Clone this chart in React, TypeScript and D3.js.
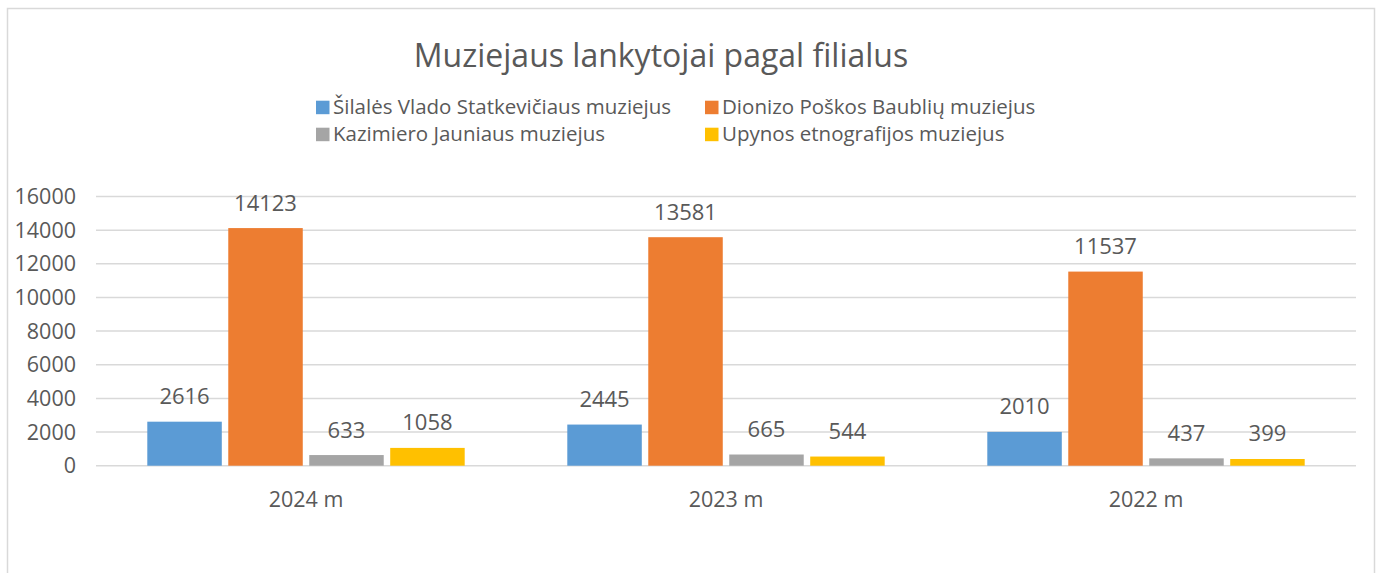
import React from "react";
import * as d3 from "d3";

const title = "Muziejaus lankytojai pagal filialus";
const categories = ["2024 m", "2023 m", "2022 m"];
const seriesNames = [
  "Šilalės Vlado Statkevičiaus muziejus",
  "Dionizo Poškos Baublių muziejus",
  "Kazimiero Jauniaus muziejus",
  "Upynos etnografijos muziejus",
];
const seriesColors = ["#5B9BD5", "#ED7D31", "#A5A5A5", "#FFC000"];
const silale = [2616, 2445, 2010];
const dionizo = [14123, 13581, 11537];
const kazimiero = [633, 665, 437];
const upyna = [1058, 544, 399];
const yTicks = [0, 2000, 4000, 6000, 8000, 10000, 12000, 14000, 16000];

const seriesValues = [silale, dionizo, kazimiero, upyna];

const FONT = "'Open Sans', 'Noto Sans', sans-serif";
const TEXT = "#595959";

export default function App() {
  const W = 1381;
  const H = 573;
  const y = d3.scaleLinear().domain([0, 16000]).range([465.7, 196.5]);
  const x0 = d3.scaleBand<string>().domain(categories).range([96, 1356]).padding(0);
  const x1 = d3
    .scaleBand<number>()
    .domain(d3.range(seriesNames.length))
    .range([51.3, 368.7])
    .paddingInner(0.08)
    .paddingOuter(0);

  const legendItems = [
    { i: 0, x: 316, y: 100.7 },
    { i: 1, x: 705, y: 100.7 },
    { i: 2, x: 316, y: 127.7 },
    { i: 3, x: 705, y: 127.7 },
  ];

  return (
    <svg
      width={W}
      height={H}
      style={{ position: "absolute", left: 0, top: 0, background: "#fff" }}
      fontFamily={FONT}
    >
      <rect x={7.5} y={8.5} width={1367} height={600} fill="#fff" stroke="#D9D9D9" strokeWidth={1.5} />
      <text x={661} y={67} textAnchor="middle" fontSize={32} fill={TEXT}>
        {title}
      </text>
      {legendItems.map((l) => (
        <g key={l.i}>
          <rect x={l.x} y={l.y} width={13.5} height={13.5} fill={seriesColors[l.i]} />
          <text x={l.x + 17} y={l.y + 13.5} fontSize={20.5} fill={TEXT}>
            {seriesNames[l.i]}
          </text>
        </g>
      ))}
      {yTicks.map((t) => (
        <g key={t}>
          <line x1={96} x2={1356} y1={y(t)} y2={y(t)} stroke="#D9D9D9" strokeWidth={1.5} />
          <text x={76} y={y(t)} dy="0.35em" textAnchor="end" fontSize={21.5} fill={TEXT}>
            {t}
          </text>
        </g>
      ))}
      {categories.map((c, ci) => (
        <g key={c} transform={`translate(${x0(c)},0)`}>
          {seriesValues.map((vals, si) => (
            <g key={si}>
              <rect
                x={x1(si)}
                y={y(vals[ci])}
                width={x1.bandwidth()}
                height={y(0) - y(vals[ci])}
                fill={seriesColors[si]}
              />
              <text
                x={(x1(si) as number) + x1.bandwidth() / 2}
                y={y(vals[ci]) - 17.5}
                textAnchor="middle"
                fontSize={22}
                fill={TEXT}
              >
                {vals[ci]}
              </text>
            </g>
          ))}
          <text x={x0.bandwidth() / 2} y={506.5} textAnchor="middle" fontSize={21.5} fill={TEXT}>
            {c}
          </text>
        </g>
      ))}
    </svg>
  );
}
